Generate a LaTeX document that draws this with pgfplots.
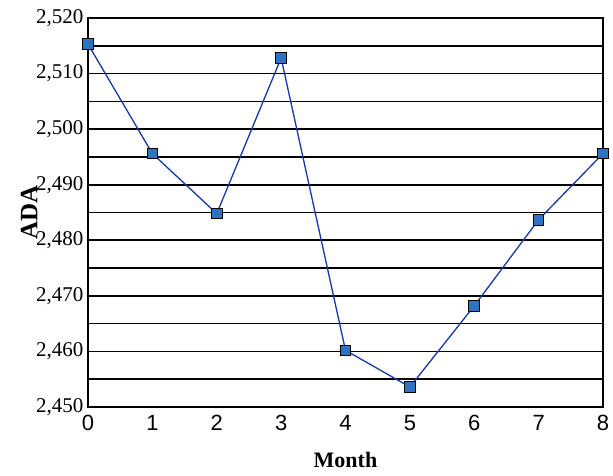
\documentclass[border=0pt]{standalone}
\usepackage{fontspec}
\setmainfont{Liberation Serif}
\newfontfamily\arialfont{Liberation Sans}
\usepackage{pgfplots}
\pgfplotsset{compat=1.18}
\definecolor{lineblue}{RGB}{20,55,180}
\definecolor{markblue}{RGB}{45,115,195}

\begin{document}
\begin{tikzpicture}
\begin{axis}[
  at={(0pt,0pt)}, anchor=south west,
  scale only axis,
  width=515pt, height=389pt,
  xmin=0, xmax=8, ymin=2.45, ymax=2.52,
  xtick={0,1,...,8},
  ytick={2.45,2.46,2.47,2.48,2.49,2.50,2.51,2.52},
  minor y tick num=1,
  ymajorgrids, yminorgrids,
  major grid style={black, line width=1.7pt},
  minor grid style={black, line width=1.7pt},
  axis line style={black, line width=1.7pt},
  major tick length=0pt, minor tick length=0pt,
  scaled y ticks=false,
  /pgf/number format/assume math mode=true,
  yticklabel style={font=\fontsize{21}{24}\selectfont, xshift=-1pt,
    /pgf/number format/.cd, fixed, fixed zerofill, precision=3, use comma},
  xticklabel style={font=\arialfont\fontsize{22}{26}\selectfont, yshift=-5pt},
  xlabel={\textbf{Month}},
  ylabel={\textbf{ADA}},
  xlabel style={font=\fontsize{22}{26}\selectfont, yshift=-14pt},
  ylabel style={font=\fontsize{25}{28}\selectfont, yshift=-8pt},
]
\addplot[lineblue, line width=1.3pt, mark=square*,
  mark options={fill=markblue, draw=black, line width=1pt}, mark size=5.3pt]
  coordinates {
  (0,2.5153) (1,2.4956) (2,2.4848) (3,2.5128) (4,2.4602)
  (5,2.4536) (6,2.4682) (7,2.4837) (8,2.4956)
};
\end{axis}
\path[use as bounding box] (-88pt,-69pt) rectangle (525pt,407pt);
\end{tikzpicture}
\end{document}
